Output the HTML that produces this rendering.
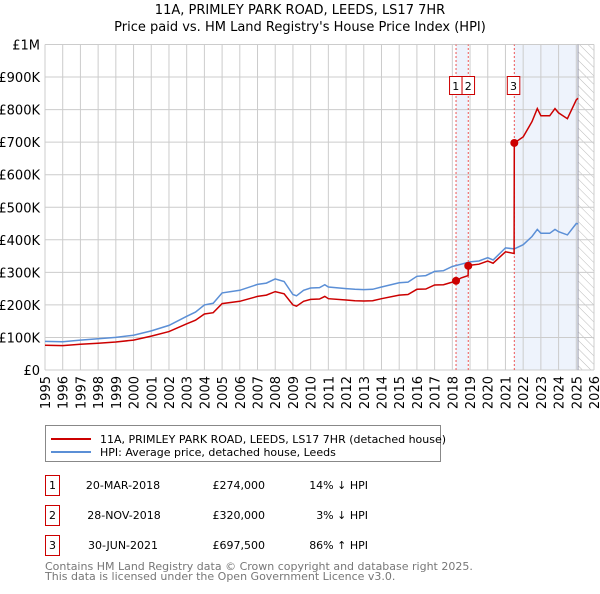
<!DOCTYPE html>
<html><head><meta charset="utf-8"><style>
body{margin:0;background:#fff;font-family:"DejaVu Sans","Liberation Sans",sans-serif;}
svg text{font-family:"DejaVu Sans","Liberation Sans",sans-serif;}
</style></head><body>
<svg id="c" width="600" height="590" xmlns="http://www.w3.org/2000/svg">
<defs><pattern id="hatch" width="6" height="6" patternUnits="userSpaceOnUse" patternTransform="rotate(-45)"><line x1="0" y1="0" x2="0" y2="6" stroke="#bbb" stroke-width="1"/></pattern></defs>
<text x="300" y="14" text-anchor="middle" font-size="13">11A, PRIMLEY PARK ROAD, LEEDS, LS17 7HR</text>
<text x="300" y="31" text-anchor="middle" font-size="13">Price paid vs. HM Land Registry's House Price Index (HPI)</text>
<g id="plot"></g>
<g>
<rect x="45.5" y="425.5" width="395" height="36" fill="#fff" stroke="#888"/>
<line x1="51" y1="439" x2="91" y2="439" stroke="#cc0000" stroke-width="2"/>
<text x="100" y="443" font-size="11">11A, PRIMLEY PARK ROAD, LEEDS, LS17 7HR (detached house)</text>
<line x1="51" y1="452" x2="91" y2="452" stroke="#5b8fd6" stroke-width="2"/>
<text x="100" y="456" font-size="11">HPI: Average price, detached house, Leeds</text>
</g>
<g font-size="11">
<rect x="45.5" y="475.5" width="14" height="20" fill="none" stroke="#cc0000"/><text x="52.5" y="489" text-anchor="middle">1</text>
<text x="123" y="489" text-anchor="middle">20-MAR-2018</text><text x="265" y="489" text-anchor="end">£274,000</text><text x="368" y="489" text-anchor="end">14% ↓ HPI</text>
<rect x="45.5" y="505.5" width="14" height="20" fill="none" stroke="#cc0000"/><text x="52.5" y="519" text-anchor="middle">2</text>
<text x="124" y="519" text-anchor="middle">28-NOV-2018</text><text x="265" y="519" text-anchor="end">£320,000</text><text x="368" y="519" text-anchor="end">3% ↓ HPI</text>
<rect x="45.5" y="535.5" width="14" height="20" fill="none" stroke="#cc0000"/><text x="52.5" y="549" text-anchor="middle">3</text>
<text x="123" y="549" text-anchor="middle">30-JUN-2021</text><text x="265" y="549" text-anchor="end">£697,500</text><text x="368" y="549" text-anchor="end">86% ↑ HPI</text>
</g>
<text x="45" y="570" font-size="11" fill="#777">Contains HM Land Registry data © Crown copyright and database right 2025.</text>
<text x="45" y="580" font-size="11" fill="#777">This data is licensed under the Open Government Licence v3.0.</text>
</svg>
<script>
const hpiDates=[1995,1996,1997,1998,1999,2000,2001,2002,2003,2003.5,2004,2004.5,2005,2006,2007,2007.5,2008,2008.5,2009,2009.2,2009.6,2010,2010.5,2010.8,2011,2012,2012.5,2013,2013.5,2014,2015,2015.5,2016,2016.5,2017,2017.5,2018,2018.5,2019,2019.5,2020,2020.3,2021,2021.5,2022,2022.5,2022.8,2023,2023.5,2023.8,2024,2024.5,2025,2025.1];
const hpiValues=[88,87,92,96,100,107,120,137,165,178,200,205,237,245,263,267,280,272,232,228,245,252,253,262,255,250,248,247,248,255,268,270,288,290,303,305,318,325,332,335,345,338,375,372,385,410,432,420,420,432,425,415,450,449];
const propDates=[1995,1996,1997,1998,1999,2000,2001,2002,2003,2003.5,2004,2004.5,2005,2006,2007,2007.5,2008,2008.5,2009,2009.2,2009.6,2010,2010.5,2010.8,2011,2012,2012.5,2013,2013.5,2014,2015,2015.5,2016,2016.5,2017,2017.5,2018,2018.21,2018.5,2018.89,2018.9,2019,2019.5,2020,2020.3,2021,2021.49,2021.5,2022,2022.5,2022.8,2023,2023.5,2023.8,2024,2024.5,2025,2025.1];
const propValues=[76,75,79,82,86,92,104,118,142,153,172,176,204,211,226,230,241,234,200,196,211,217,218,226,219,215,213,212,213,219,230,232,248,249,261,262,270,274,283,290,320,322,325,335,328,363,358,697.5,716,763,803,781,781,803,790,772,830,835];
const saleDates=[2018.21,2018.9,2021.5];
const saleValues=[274,320,697.5];
const saleLabels=["1","2","3"];
const yTicks=[0,100,200,300,400,500,600,700,800,900,1000];
const yTickLabels=["£0","£100K","£200K","£300K","£400K","£500K","£600K","£700K","£800K","£900K","£1M"];
const xTicks=[1995,1996,1997,1998,1999,2000,2001,2002,2003,2004,2005,2006,2007,2008,2009,2010,2011,2012,2013,2014,2015,2016,2017,2018,2019,2020,2021,2022,2023,2024,2025,2026];
const dataEnd=2025.1;

const X=v=>45+(v-1995)*(549/31);
const Y=v=>370-v*0.3255;
const NS="http://www.w3.org/2000/svg";
const g=document.getElementById('plot');
function mk(t,a,p){const e=document.createElementNS(NS,t);for(const k in a)e.setAttribute(k,a[k]);(p||g).appendChild(e);return e;}
let e;
e=mk('rect',{x:X(saleDates[0]),y:Y(1000),width:X(saleDates[1])-X(saleDates[0]),height:Y(0)-Y(1000),fill:'#eef3fc'});


e=mk('rect',{x:X(saleDates[2]),y:Y(1000),width:X(dataEnd)-X(saleDates[2]),height:Y(0)-Y(1000),fill:'#eef3fc'});


e=mk('rect',{x:X(dataEnd),y:Y(1000),width:X(2026)-X(dataEnd),height:Y(0)-Y(1000),fill:'url(#hatch)'});


yTicks.forEach((t,i)=>{
 e=mk('line',{x1:45,x2:594,y1:Y(t),y2:Y(t),stroke:'#ccc'});
 
 
 e=mk('text',{x:40,y:Y(t)+5,'text-anchor':'end','font-size':13});
 e.textContent=yTickLabels[i];
 
 
});
xTicks.forEach(t=>{
 e=mk('line',{x1:X(t),x2:X(t),y1:Y(0),y2:Y(1000),stroke:'#ccc'});
 
 
 e=mk('text',{x:0,y:0,'font-size':13,transform:`translate(${X(t)+5},${Y(0)+6}) rotate(-90)`,'text-anchor':'end'});
 e.textContent=t;
 
 
});
e=mk('line',{x1:X(dataEnd),x2:X(dataEnd),y1:Y(0),y2:Y(1000),stroke:'#99a'});


saleDates.forEach((d,i)=>{
 e=mk('line',{x1:X(d),x2:X(d),y1:Y(0),y2:Y(1000),stroke:'#e55','stroke-dasharray':'2,2'});
 
 
});
const pts=(ds,vs)=>ds.map((d,i)=>X(d).toFixed(1)+','+Y(vs[i]).toFixed(1)).join(' ');
e=mk('polyline',{points:pts(hpiDates,hpiValues),fill:'none',stroke:'#5b8fd6','stroke-width':1.5});


e=mk('polyline',{points:pts(propDates,propValues),fill:'none',stroke:'#cc0000','stroke-width':1.5});


saleDates.forEach((d,i)=>{
 e=mk('circle',{cx:X(d),cy:Y(saleValues[i]),r:4,fill:'#cc0000'});
 
 
});
const boxX=[X(saleDates[0]),X(saleDates[0])+12.5,X(saleDates[2])-0.5];
saleDates.forEach((d,i)=>{
 e=mk('rect',{x:boxX[i]-6.5,y:76.5,width:12.5,height:18,fill:'#fff',stroke:'#cc0000'});
 
 
 e=mk('text',{x:boxX[i]-0.25,y:90,'text-anchor':'middle','font-size':11});
 e.textContent=saleLabels[i];
 
 
});
</script>
</body></html>
